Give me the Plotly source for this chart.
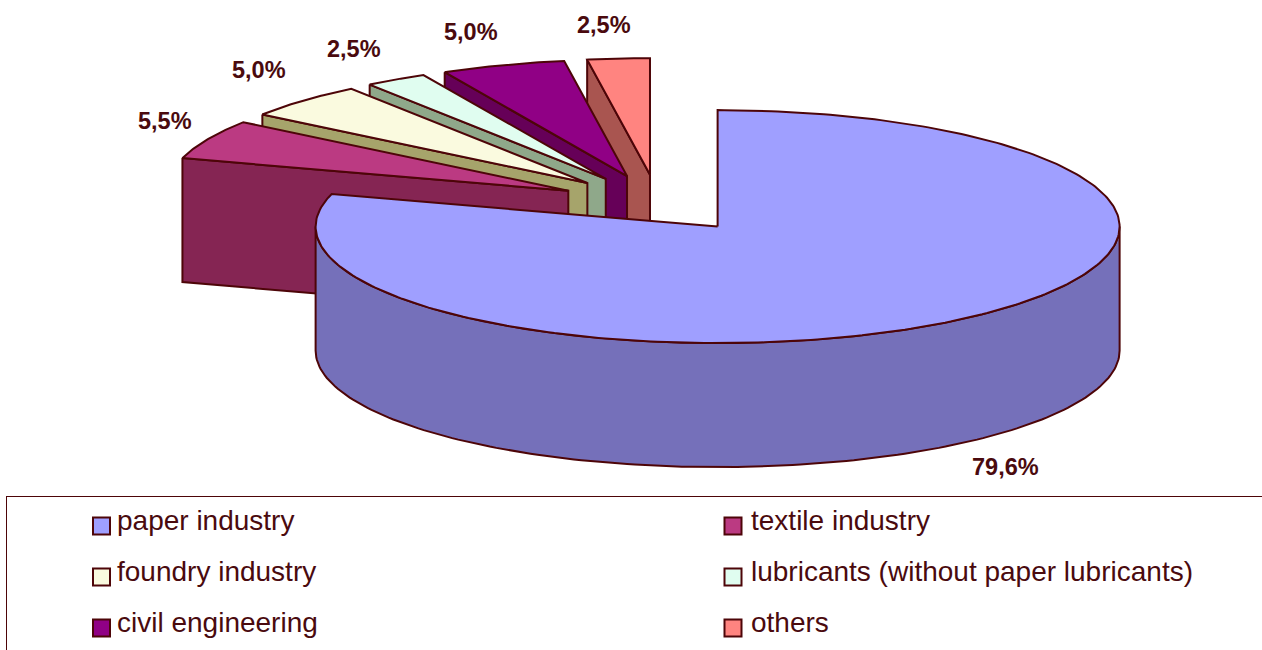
import numpy as np
import plotly.graph_objects as go

categories = ["paper industry", "textile industry", "foundry industry",
              "lubricants (without paper lubricants)", "civil engineering", "others"]
values = [79.6, 5.5, 5.0, 2.5, 5.0, 2.5]
top_colors = ["#9F9FFF", "#BB3A82", "#FAFADF", "#E0FDF0", "#900085", "#FF8480"]
side_colors = ["#7570BA", "#852553", "#A6A46B", "#8FA88A", "#660058", "#A95550"]
label_positions = [(1005, 467), (165, 121), (259, 70), (354, 49), (471, 32), (604, 25)]

LINE = "#4D0508"
TEXT = "#4A0A0E"
CX, CY, RX, RY, DEPTH, EXPLODE = 657.8, 203.5, 402, 116.5, 124, 0.248

total = sum(values)
edges = np.concatenate([[0], np.cumsum(values)]) / total * 2 * np.pi
fig = go.Figure()


def poly(xs, ys, fill, name):
    fig.add_trace(go.Scatter(x=list(xs) + [xs[0]], y=list(ys) + [ys[0]], mode="lines", fill="toself",
                             fillcolor=fill, line=dict(color=LINE, width=2),
                             hoverinfo="skip", showlegend=False, name=name))


def slice_geometry(i):
    a0, a1 = edges[i], edges[i + 1]
    mid = (a0 + a1) / 2
    ax = CX + EXPLODE * RX * np.sin(mid)
    ay = CY - EXPLODE * RY * np.cos(mid)
    return a0, a1, ax, ay


def rim(ax, ay, t):
    return ax + RX * np.sin(t), ay - RY * np.cos(t)


# back-to-front: last slices first, main slice on top
for i in range(len(values) - 1, 0, -1):
    a0, a1, ax, ay = slice_geometry(i)
    ex, ey = rim(ax, ay, a0)
    poly([ex, ax, ax, ex], [ey, ay, ay + DEPTH, ey + DEPTH], side_colors[i], categories[i] + " side")
    t = np.linspace(a0, a1, 40)
    rx, ry = rim(ax, ay, t)
    poly(np.r_[ax, rx], np.r_[ay, ry], top_colors[i], categories[i])

a0, a1, ax, ay = slice_geometry(0)
t = np.linspace(np.pi / 2, 3 * np.pi / 2, 160)
rx, ry = rim(ax, ay, t)
poly(np.r_[rx, rx[::-1]], np.r_[ry, ry[::-1] + DEPTH], side_colors[0], categories[0] + " side")
t = np.linspace(a0, a1, 300)
rx, ry = rim(ax, ay, t)
poly(np.r_[ax, rx], np.r_[ay, ry], top_colors[0], categories[0])

# value labels
annotations = []
for v, (lx, ly) in zip(values, label_positions):
    annotations.append(dict(x=lx, y=ly, xref="x", yref="y", showarrow=False,
                            text="<b>" + f"{v:.1f}".replace(".", ",") + "%</b>",
                            font=dict(family="Liberation Sans", size=23.5, color=TEXT)))

# legend: two columns, three rows
col_x = [101.5, 733]
col_text_gap = [13, 16]
row_y = [526, 577, 628]
for i, name in enumerate(categories):
    sx, sy = col_x[i % 2], row_y[i // 2]
    fig.add_trace(go.Scatter(x=[sx], y=[sy], mode="markers", hoverinfo="skip", showlegend=False,
                             marker=dict(symbol="square", size=17, color=top_colors[i],
                                         line=dict(color=LINE, width=2))))
    annotations.append(dict(x=sx + col_text_gap[i % 2], y=sy - 6, xref="x", yref="y", showarrow=False,
                            xanchor="left", text=name,
                            font=dict(family="Liberation Sans", size=28, color=TEXT)))

fig.update_layout(
    width=1262, height=650, margin=dict(l=0, r=0, t=0, b=0), autosize=False,
    paper_bgcolor="white", plot_bgcolor="white", showlegend=False,
    xaxis=dict(range=[0, 1262], visible=False, fixedrange=True),
    yaxis=dict(range=[650, 0], visible=False, fixedrange=True),
    annotations=annotations,
    shapes=[dict(type="line", x0=6, x1=1262, y0=496.5, y1=496.5, line=dict(color=LINE, width=1)),
            dict(type="line", x0=6.5, x1=6.5, y0=496, y1=650, line=dict(color=LINE, width=1))],
)
fig.write_html("out.html", config=dict(displayModeBar=False),
               post_script="document.body.style.margin='0';document.body.style.overflow='hidden';")
